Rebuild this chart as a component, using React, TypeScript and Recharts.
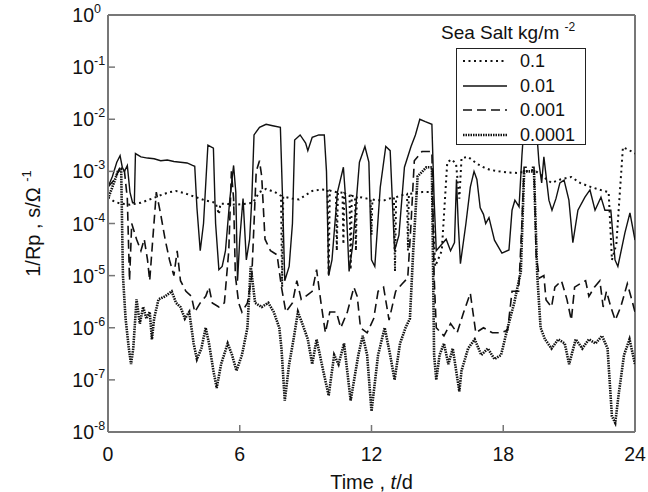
import { LineChart, Line, XAxis, YAxis, Legend, ReferenceLine } from 'recharts';

const TIME_TICKS = [0, 6, 12, 18, 24];
const DECADES = [1e-8, 1e-7, 1e-6, 1e-5, 1e-4, 1e-3, 1e-2, 1e-1, 1];

// [t (days), 1/Rp]
const salt01: [number, number][] = [
  [0, 3.2e-4], [0.3, 2.6e-4], [0.6, 2.4e-4], [1.0, 2.3e-4], [1.5, 2.5e-4], [2.0, 3e-4], [2.4, 3.5e-4],
  [2.8, 4e-4], [3.1, 4.2e-4], [3.5, 3.8e-4], [4.0, 3.2e-4], [4.4, 2.8e-4], [4.9, 2.5e-4], [5.05, 1.5e-4],
  [5.12, 2.4e-4], [5.3, 2.4e-4], [5.8, 2.3e-4], [6.3, 2.4e-4], [6.6, 2.5e-4], [6.9, 4e-4], [7.2, 4.6e-4],
  [7.6, 4e-4], [7.88, 3.4e-4], [7.93, 6e-6], [7.98, 3.3e-4], [8.4, 3e-4], [8.7, 2.9e-4], [9.0, 3.5e-4],
  [9.3, 4.2e-4], [9.7, 4.5e-4], [10.0, 4.4e-4], [10.05, 1e-5], [10.1, 4.3e-4], [10.38, 4e-4],
  [10.42, 3e-5], [10.47, 4e-4], [10.68, 3.9e-4], [10.72, 4e-5], [10.76, 3.8e-4], [11.0, 3.5e-4],
  [11.05, 1.3e-5], [11.1, 3.4e-4], [11.25, 3.3e-4], [11.29, 3e-5], [11.33, 3.3e-4], [11.8, 3e-4],
  [11.96, 2.9e-4], [12.0, 6e-5], [12.04, 2.9e-4], [12.2, 2.8e-4], [12.6, 2.8e-4], [13.02, 3.2e-4],
  [13.07, 1.2e-5], [13.12, 3.2e-4], [13.4, 3.5e-4], [13.62, 3.7e-4], [13.66, 3e-5], [13.7, 3.7e-4],
  [14.3, 4e-4], [14.75, 4e-4], [14.9, 1.5e-5], [15.2, 3e-5], [15.45, 1.5e-3], [15.65, 1.7e-3],
  [15.85, 1.4e-3], [16.0, 3e-4], [16.1, 1.8e-3], [16.4, 1.9e-3], [16.8, 1.4e-3], [17.1, 1.2e-3],
  [17.4, 1.07e-3], [17.8, 1e-3], [18.2, 9.5e-4], [18.7, 9.3e-4], [19.0, 1e-3], [19.4, 1.07e-3],
  [19.8, 8e-4], [20.2, 6e-4], [20.6, 7e-4], [21.1, 7.8e-4], [21.5, 6e-4], [22.0, 5e-4], [22.5, 4.3e-4],
  [22.8, 4e-4], [22.95, 2e-5], [23.15, 4e-5], [23.45, 2.9e-3], [23.7, 2.6e-3], [24, 2.2e-3],
];

const salt001: [number, number][] = [
  [0, 5e-4], [0.2, 8e-4], [0.4, 1.5e-3], [0.55, 2e-3], [0.65, 1.2e-3], [0.75, 1e-3], [0.88, 1.3e-3],
  [1.0, 4e-4], [1.12, 2.5e-4], [1.2, 2.5e-4], [1.25, 2.2e-3], [1.5, 1.9e-3], [1.8, 1.8e-3],
  [2.1, 1.75e-3], [2.4, 1.6e-3], [2.7, 1.65e-3], [3.0, 1.55e-3], [3.3, 1.5e-3], [3.6, 1.45e-3],
  [3.85, 1.3e-3], [3.95, 1.25e-3], [4.05, 2e-4], [4.2, 3e-5], [4.35, 1e-4], [4.55, 3.2e-3],
  [4.8, 2.8e-3], [4.9, 1e-4], [5.05, 1.3e-5], [5.2, 1.5e-5], [5.35, 3e-5], [5.55, 3e-4], [5.72, 1.3e-3],
  [5.82, 4e-4], [5.9, 8e-6], [6.0, 5e-5], [6.15, 3e-4], [6.3, 2e-5], [6.45, 5e-5], [6.55, 3e-4],
  [6.65, 5e-3], [6.9, 7e-3], [7.2, 8e-3], [7.5, 7.5e-3], [7.85, 7e-3], [7.95, 3e-4], [8.05, 8e-6],
  [8.25, 1.5e-5], [8.4, 1e-4], [8.5, 4e-3], [8.75, 5e-3], [9.0, 3.5e-3], [9.1, 2.5e-3], [9.3, 4.5e-3],
  [9.6, 5e-3], [9.85, 5e-3], [9.95, 1e-3], [10.05, 1e-5], [10.2, 2e-5], [10.45, 4e-4], [10.72, 1.2e-3],
  [10.85, 2e-4], [10.98, 1.2e-5], [11.15, 4e-5], [11.45, 1.5e-3], [11.7, 3e-3], [11.88, 1.5e-3],
  [12.0, 2e-5], [12.15, 1.5e-5], [12.4, 5e-4], [12.65, 3e-3], [12.85, 2.5e-3], [13.05, 3e-5],
  [13.25, 6e-5], [13.5, 1.2e-3], [13.8, 3e-3], [14.0, 5e-3], [14.2, 1e-2], [14.45, 9e-3], [14.75, 8e-3],
  [14.85, 3e-4], [14.95, 3e-5], [15.2, 4e-5], [15.4, 5e-5], [15.6, 3e-5], [15.78, 4.3e-5], [15.87, 7e-4],
  [15.95, 1e-4], [16.05, 1.7e-5], [16.3, 1e-4], [16.5, 5e-4], [16.67, 1e-3], [16.8, 7e-4], [16.95, 2e-4],
  [17.1, 1.5e-4], [17.2, 1e-4], [17.35, 1.3e-4], [17.6, 4.8e-5], [17.94, 2.7e-5], [18.26, 3.1e-5],
  [18.4, 1.8e-4], [18.53, 2.8e-4], [18.72, 2.1e-4], [18.85, 2e-3], [18.95, 8e-3], [19.5, 8e-3],
  [19.63, 1.4e-3], [19.75, 6e-4], [19.85, 1.9e-3], [20.08, 2.8e-4], [20.22, 1.8e-4], [20.4, 3e-4],
  [20.58, 6e-4], [20.77, 6.8e-4], [20.99, 2.8e-4], [21.17, 4.3e-5], [21.4, 1.8e-4], [21.72, 3.2e-4],
  [21.95, 4.4e-4], [22.18, 1.8e-4], [22.45, 3.2e-4], [22.63, 1.8e-4], [22.9, 1.8e-4], [23.09, 2e-5],
  [23.22, 1.5e-5], [23.54, 6.6e-5], [23.77, 1.6e-4], [24, 4.8e-5],
];

const salt0001: [number, number][] = [
  [0, 5e-4], [0.3, 7e-4], [0.55, 1.2e-3], [0.75, 1e-3], [0.88, 3e-4], [0.98, 8e-6], [1.08, 1e-4],
  [1.3, 5e-5], [1.5, 3e-5], [1.65, 5e-5], [1.8, 2e-5], [1.9, 8e-6], [2.0, 3e-5], [2.2, 4e-4],
  [2.4, 1.5e-4], [2.6, 5e-5], [2.8, 2e-5], [3.0, 1e-5], [3.15, 3e-5], [3.3, 8e-6], [3.55, 5e-6],
  [3.8, 4e-6], [3.95, 2e-6], [4.2, 3e-6], [4.45, 4e-6], [4.6, 6e-6], [4.75, 3e-6], [5.05, 2.5e-6],
  [5.3, 3e-6], [5.5, 3e-5], [5.62, 1e-3], [5.72, 3e-4], [5.8, 1e-5], [5.95, 3e-6], [6.1, 2e-6],
  [6.35, 3e-6], [6.55, 1e-5], [6.75, 1e-3], [6.9, 1.6e-3], [7.0, 8e-4], [7.15, 5e-5], [7.4, 3e-5],
  [7.7, 2.5e-5], [7.9, 6e-6], [8.1, 2e-6], [8.4, 3e-6], [8.6, 8e-6], [8.8, 3.5e-6], [9.0, 4e-6],
  [9.3, 5e-6], [9.5, 1.3e-5], [9.7, 3e-6], [9.9, 8e-7], [10.1, 2e-6], [10.4, 2e-6], [10.6, 1e-6],
  [10.9, 2e-6], [11.2, 6e-6], [11.35, 4e-6], [11.5, 1e-6], [11.8, 8e-7], [12.1, 1.5e-6], [12.3, 5e-6],
  [12.55, 6e-6], [12.8, 1.4e-6], [13.1, 5e-6], [13.4, 7e-6], [13.65, 9e-6], [13.8, 1e-4], [13.95, 1.6e-3],
  [14.3, 2.4e-3], [14.75, 2.4e-3], [14.85, 1e-5], [14.95, 1e-6], [15.3, 7e-7], [15.6, 1.2e-6],
  [15.9, 8e-7], [16.2, 2e-6], [16.5, 4.6e-6], [16.75, 8e-7], [17.1, 1e-6], [17.5, 8e-7], [17.9, 8e-7],
  [18.2, 9e-7], [18.4, 5e-6], [18.7, 5e-6], [18.85, 1e-4], [18.95, 1.2e-3], [19.4, 1.2e-3],
  [19.5, 2.3e-5], [19.65, 9e-6], [19.85, 1e-5], [19.95, 3.4e-6], [20.2, 2.5e-6], [20.35, 6e-6],
  [20.65, 8e-6], [20.9, 3.5e-6], [21.1, 1.4e-6], [21.25, 6e-6], [21.5, 7e-6], [21.75, 8e-6], [21.9, 4e-6],
  [22.15, 6e-6], [22.4, 8e-6], [22.55, 2.5e-6], [22.7, 5e-6], [22.9, 2.5e-6], [23.1, 1.4e-6],
  [23.35, 2.5e-6], [23.65, 7e-6], [23.85, 3.5e-6], [24, 2e-6],
];

const salt00001: [number, number][] = [
  [0, 3e-4], [0.2, 5e-4], [0.45, 1e-3], [0.6, 1.1e-3], [0.68, 1e-5], [0.8, 1.5e-6], [0.95, 4e-7],
  [1.05, 2e-7], [1.15, 4e-7], [1.3, 3.5e-6], [1.45, 1.2e-6], [1.6, 2.5e-6], [1.75, 1.5e-6], [1.9, 2e-6],
  [2.0, 6e-7], [2.1, 1.5e-6], [2.3, 3.5e-6], [2.6, 4e-6], [2.9, 5e-6], [3.1, 3e-6], [3.3, 2.5e-6],
  [3.5, 1.5e-6], [3.7, 2e-6], [3.9, 5e-7], [4.05, 2.5e-7], [4.25, 4e-7], [4.45, 1e-6], [4.6, 5e-7],
  [4.8, 1.5e-7], [4.95, 7e-8], [5.15, 2e-7], [5.45, 5e-7], [5.65, 3e-7], [5.85, 1.5e-7], [6.1, 3e-7],
  [6.35, 1e-6], [6.5, 1.5e-5], [6.7, 3e-6], [7.0, 2.5e-6], [7.3, 3e-6], [7.55, 2e-6], [7.8, 1e-6],
  [7.9, 4e-7], [8.05, 4e-8], [8.25, 2e-7], [8.45, 6e-7], [8.65, 2e-6], [8.85, 1.2e-6], [9.1, 6e-7],
  [9.3, 2e-7], [9.5, 6e-7], [9.8, 1.5e-7], [10.05, 5e-8], [10.3, 3e-7], [10.5, 2e-7], [10.75, 5e-7],
  [11.05, 4e-8], [11.4, 3e-7], [11.6, 7e-7], [11.8, 3e-7], [12.0, 2.5e-8], [12.3, 3e-7], [12.6, 1e-6],
  [12.85, 3e-7], [13.05, 1e-7], [13.3, 5e-7], [13.55, 1e-6], [13.75, 1.5e-6], [13.9, 3e-5], [14.1, 8e-4],
  [14.5, 1.2e-3], [14.75, 1.2e-3], [14.85, 3e-7], [14.95, 1e-7], [15.1, 3e-7], [15.3, 5e-7],
  [15.5, 2e-7], [15.7, 4e-7], [16.0, 6e-8], [16.1, 1.5e-7], [16.4, 4e-7], [16.7, 6e-7], [17.0, 3e-7],
  [17.3, 4e-7], [17.6, 2.5e-7], [17.9, 3e-7], [18.2, 1e-6], [18.5, 3e-6], [18.8, 1.2e-5], [18.95, 1e-3],
  [19.4, 1e-3], [19.55, 1e-5], [19.7, 1e-6], [19.9, 6e-7], [20.2, 4e-7], [20.5, 6e-7], [20.8, 5e-7],
  [21.0, 2e-7], [21.3, 6e-7], [21.6, 4e-7], [21.9, 6e-7], [22.2, 5e-7], [22.5, 7e-7], [22.75, 4e-7],
  [22.95, 2e-8], [23.1, 1.5e-8], [23.25, 5e-8], [23.5, 3e-7], [23.75, 6e-7], [24, 2e-7],
];

const FONT = '"Liberation Sans", Arial, Helvetica, sans-serif';
const INK = '#111';
const AXIS = '#777';

const SERIES = [
  { name: '0.1', points: salt01, dash: '2 3.5', width: 2 },
  { name: '0.01', points: salt001, dash: undefined, width: 1.4 },
  { name: '0.001', points: salt0001, dash: '9 5', width: 1.6 },
  { name: '0.0001', points: salt00001, dash: '1.5 1', width: 2.6 },
];

const rows = (pts: [number, number][]) => pts.map(([t, v]) => ({ t, v }));

const TICK_GAP = 6;

function YTick(props: any) {
  const { x, y, payload } = props;
  const exp = Math.round(Math.log10(payload.value));
  const ax = x + TICK_GAP;
  return (
    <g>
      {exp > -8 && exp < 0 && <line x1={ax} x2={ax + 7} y1={y} y2={y} stroke={AXIS} strokeWidth={1.5} />}
      <text x={x - 8} y={y + 7} textAnchor="end" fontFamily={FONT} fontSize={19.5} fill={INK}>
        10
      </text>
      <text x={x - 8} y={y - 2} textAnchor="start" fontFamily={FONT} fontSize={12.5} fill={INK}>
        {exp}
      </text>
    </g>
  );
}

function XTick(props: any) {
  const { x, y, payload } = props;
  const ay = y - TICK_GAP;
  const inner = payload.value > 0 && payload.value < 24;
  return (
    <g>
      {inner && <line x1={x} x2={x} y1={ay} y2={ay - 7} stroke={AXIS} strokeWidth={1.5} />}
      <text x={x} y={ay + 29} textAnchor="middle" fontFamily={FONT} fontSize={19.5} fill={INK}>
        {payload.value}
      </text>
    </g>
  );
}

function XLabel(props: any) {
  const { viewBox } = props;
  const cx = viewBox.x + viewBox.width / 2;
  return (
    <text x={cx} y={viewBox.y + 57} textAnchor="middle" fontFamily={FONT} fontSize={20} fill={INK}>
      Time , <tspan fontStyle="italic">t</tspan>/d
    </text>
  );
}

function YLabel(props: any) {
  const { viewBox } = props;
  const cy = viewBox.y + viewBox.height / 2;
  const lx = 40;
  return (
    <text
      transform={`translate(${lx}, ${cy}) rotate(-90)`}
      textAnchor="middle"
      fontFamily={FONT}
      fontSize={20}
      fill={INK}
    >
      1/Rp , s/Ω <tspan fontSize={13} dy={-9}>-1</tspan>
    </text>
  );
}

function SaltLegend() {
  return (
    <div style={{ position: 'relative', width: 150, height: 150, fontFamily: FONT, color: INK }}>
      <div style={{ position: 'absolute', left: 0, top: 22, fontSize: 19, whiteSpace: 'nowrap', lineHeight: '22px' }}>
        Sea Salt kg/m <sup style={{ fontSize: 12, verticalAlign: 'top', position: 'relative', top: -6 }}>-2</sup>
      </div>
      <div
        style={{
          position: 'absolute',
          left: 15,
          top: 48,
          width: 128,
          height: 95,
          border: '1.5px solid #222',
          background: '#fff',
        }}
      >
        {SERIES.map((s, i) => (
          <div key={s.name} style={{ position: 'absolute', left: 0, top: 1 + i * 24.5, height: 22, width: 128 }}>
            <svg width={52} height={22} style={{ position: 'absolute', left: 5, top: 0 }}>
              <line x1={1} x2={45} y1={11} y2={11} stroke={INK} strokeWidth={s.width} strokeDasharray={s.dash} />
            </svg>
            <span style={{ position: 'absolute', left: 63, top: 0, fontSize: 18, lineHeight: '22px' }}>{s.name}</span>
          </div>
        ))}
      </div>
    </div>
  );
}

export default function App() {
  return (
    <div style={{ position: 'absolute', left: 0, top: 0, background: '#fff' }}>
      <LineChart width={648} height={492} margin={{ top: 15, right: 13, bottom: 0, left: 0 }}>
        <XAxis
          type="number"
          dataKey="t"
          domain={[0, 24]}
          ticks={TIME_TICKS}
          allowDataOverflow
          height={60}
          tickSize={0}
          tickMargin={TICK_GAP}
          tick={<XTick />}
          axisLine={{ stroke: AXIS, strokeWidth: 2 }}
          label={<XLabel />}
        />
        <YAxis
          type="number"
          scale="log"
          domain={[1e-8, 1]}
          ticks={DECADES}
          allowDataOverflow
          width={108}
          tickSize={0}
          tickMargin={TICK_GAP}
          tick={<YTick />}
          axisLine={{ stroke: AXIS, strokeWidth: 2 }}
          label={<YLabel />}
        />
        <ReferenceLine y={1} stroke={AXIS} strokeWidth={2} />
        <ReferenceLine x={24} stroke={AXIS} strokeWidth={2} />
        {SERIES.map((s) => (
          <Line
            key={s.name}
            data={rows(s.points)}
            dataKey="v"
            name={s.name}
            type="linear"
            stroke={INK}
            strokeWidth={s.width}
            strokeDasharray={s.dash}
            dot={false}
            activeDot={false}
            isAnimationActive={false}
          />
        ))}
        <Legend
          verticalAlign="middle"
          content={<SaltLegend />}
          wrapperStyle={{ position: 'absolute', left: 441, top: 0, width: 150, height: 150 }}
        />
      </LineChart>
    </div>
  );
}
